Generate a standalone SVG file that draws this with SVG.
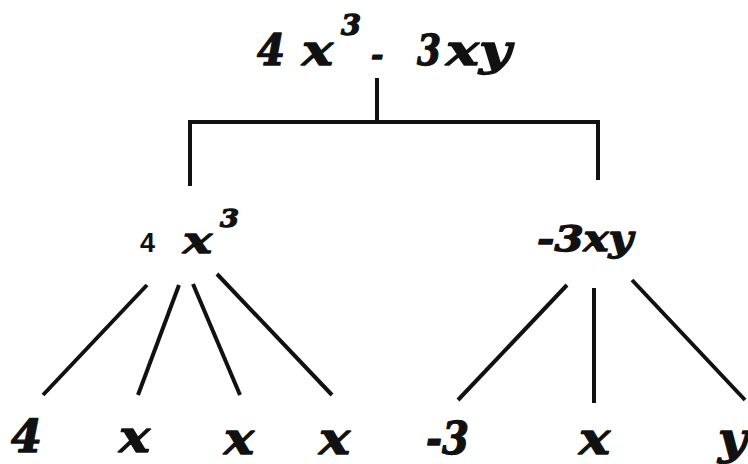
<svg xmlns="http://www.w3.org/2000/svg" width="748" height="464" viewBox="0 0 748 464">
<style>
.m{font-family:"DejaVu Serif",serif;font-weight:bold;font-style:italic;fill:#111;stroke:#111;stroke-width:1.3;stroke-linejoin:round}
.s{font-family:"Liberation Sans",Arial,sans-serif;font-weight:bold;fill:#111}
.c line,.c path{stroke:#111;stroke-width:4;fill:none}
</style>
<rect width="748" height="464" fill="#fff"/>
<g class="c" id="connectors">
<path d="M377 78V122M190 186V122H598V180"/>
<line x1="147" y1="285" x2="43" y2="395" stroke-width="3.5"/>
<line x1="179" y1="285" x2="138" y2="395" stroke-width="3.5"/>
<line x1="193" y1="284" x2="240" y2="395" stroke-width="3.5"/>
<line x1="217" y1="274" x2="332" y2="395" stroke-width="3.5"/>
<line x1="567" y1="285" x2="458" y2="400" stroke-width="3.5"/>
<line x1="594" y1="288" x2="594" y2="403" stroke-width="3.5"/>
<line x1="632" y1="280" x2="745" y2="400" stroke-width="3.5"/>
</g>
<g id="root">
<text class="m" x="257" y="65" font-size="42" textLength="28" lengthAdjust="spacingAndGlyphs">4</text>
<text class="m" x="302" y="65" font-size="42" textLength="31" lengthAdjust="spacingAndGlyphs">x</text>
<text class="m" x="341" y="35" font-size="27" textLength="20" lengthAdjust="spacingAndGlyphs">3</text>
<text class="m" x="371" y="65" font-size="30">-</text>
<text class="m" x="417" y="65" font-size="42" textLength="24" lengthAdjust="spacingAndGlyphs">3</text>
<text class="m" x="446" y="65" font-size="42" textLength="65" lengthAdjust="spacingAndGlyphs">xy</text>
</g>
<g id="left">
<text class="s" x="140" y="252" font-size="27">4</text>
<text class="m" x="183" y="253" font-size="37" textLength="29" lengthAdjust="spacingAndGlyphs">x</text>
<text class="m" x="220" y="227" font-size="25" textLength="19" lengthAdjust="spacingAndGlyphs">3</text>
</g>
<g id="right">
<text class="m" x="537" y="251" font-size="35" textLength="96" lengthAdjust="spacingAndGlyphs">-3xy</text>
</g>
<g id="leaf4"><text class="m" x="11" y="452" font-size="45" textLength="31" lengthAdjust="spacingAndGlyphs">4</text></g>
<g id="leafx1"><text class="m" x="119" y="452" font-size="45" textLength="31" lengthAdjust="spacingAndGlyphs">x</text></g>
<g id="leafx2"><text class="m" x="224" y="454" font-size="44" textLength="30" lengthAdjust="spacingAndGlyphs">x</text></g>
<g id="leafx3"><text class="m" x="319" y="454" font-size="44" textLength="31" lengthAdjust="spacingAndGlyphs">x</text></g>
<g id="leafm3"><text class="m" x="426" y="454" font-size="44" textLength="43" lengthAdjust="spacingAndGlyphs">-3</text></g>
<g id="leafx4"><text class="m" x="579" y="454" font-size="44" textLength="31" lengthAdjust="spacingAndGlyphs">x</text></g>
<g id="leafy"><text class="m" x="718" y="454" font-size="44" textLength="29" lengthAdjust="spacingAndGlyphs">y</text></g>
</svg>
